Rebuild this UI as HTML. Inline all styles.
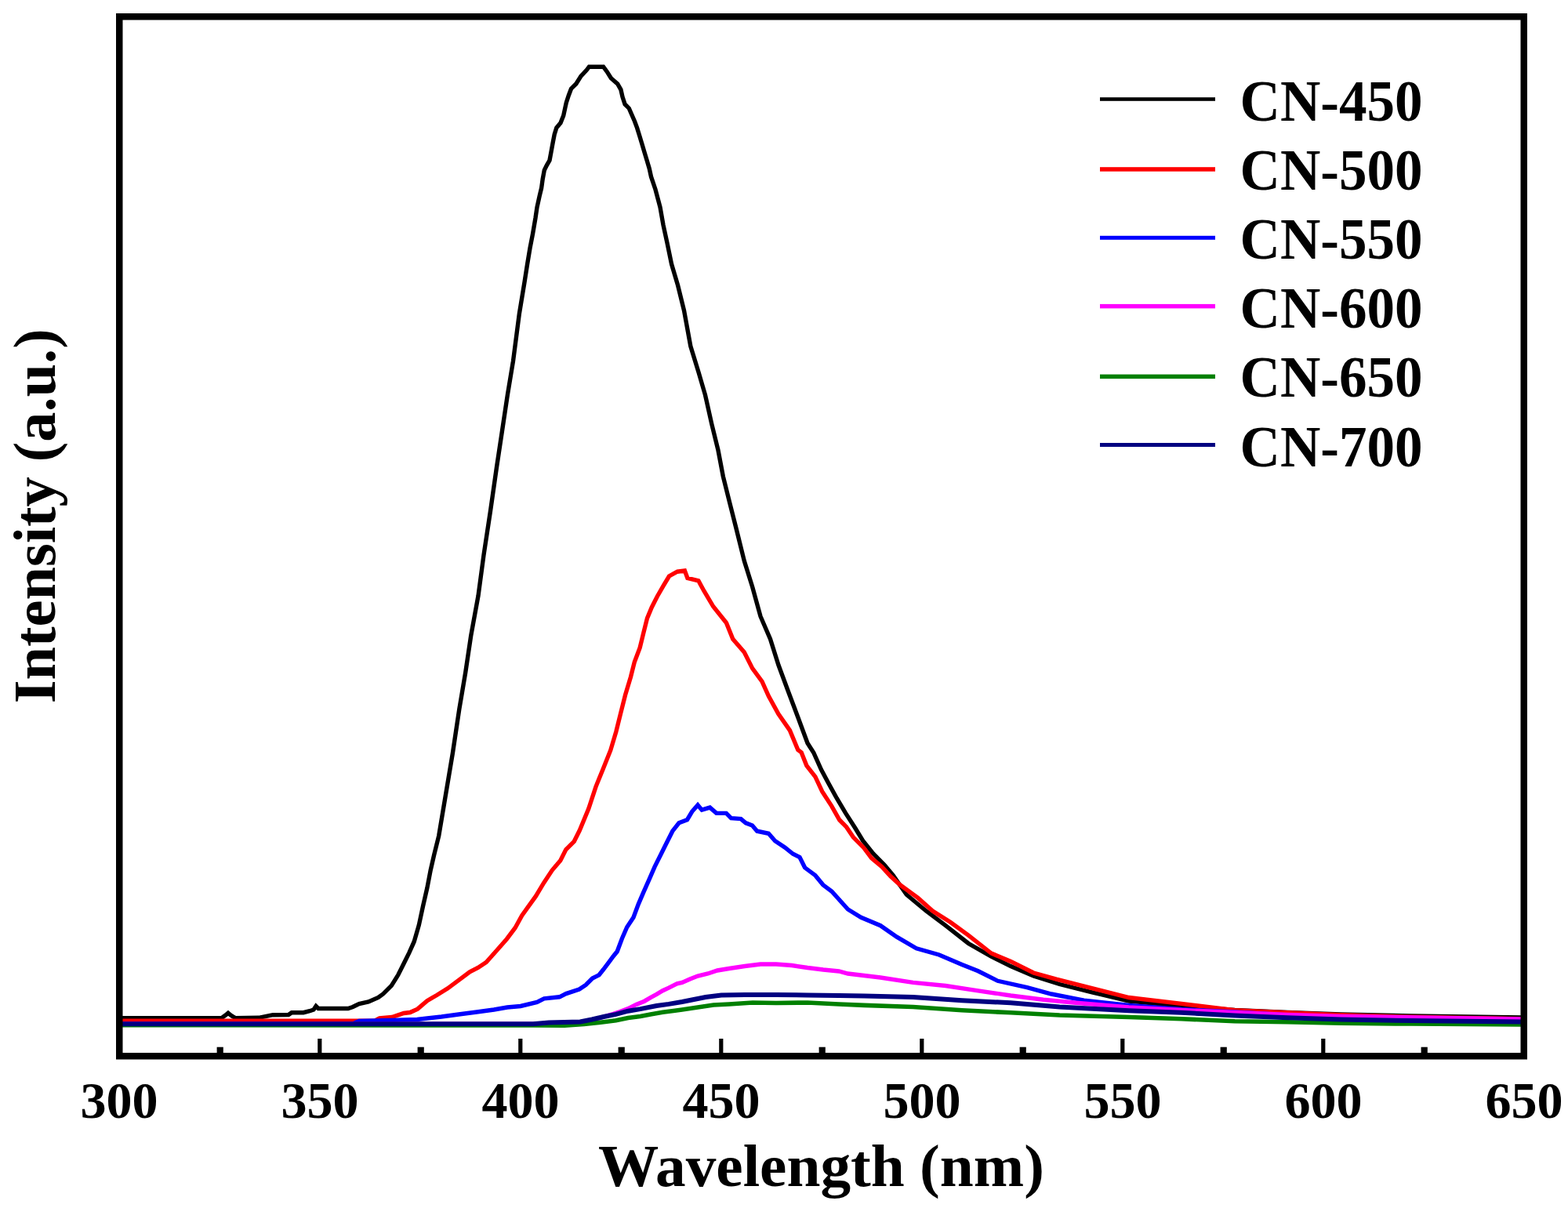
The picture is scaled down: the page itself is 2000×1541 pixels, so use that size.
<!DOCTYPE html>
<html><head><meta charset="utf-8"><title>PL spectra</title>
<style>
html,body{margin:0;padding:0;background:#fff;}
body{width:2000px;height:1541px;overflow:hidden;}
svg{display:block;}
</style></head><body>
<svg width="2000" height="1541" viewBox="0 0 2000 1541"><defs><clipPath id="c"><rect x="156" y="26" width="1784" height="1318"/></clipPath></defs><g clip-path="url(#c)" fill="none" stroke-linejoin="miter" stroke-linecap="butt"><polyline points="156.0,1298.6 200.0,1298.8 240.0,1298.8 282.5,1298.6 287.0,1295.5 291.0,1292.3 295.0,1295.5 300.0,1298.6 330.0,1298.3 348.0,1294.7 368.0,1294.5 372.0,1291.7 387.0,1291.7 395.0,1289.7 400.0,1288.0 403.0,1283.5 406.0,1286.5 444.0,1286.5 450.0,1284.5 458.0,1280.5 470.0,1278.0 482.5,1272.5 488.8,1267.8 499.3,1257.3 508.0,1243.3 515.0,1229.2 522.0,1215.2 528.2,1201.2 534.3,1180.2 539.6,1155.6 544.8,1132.9 549.2,1110.1 553.6,1090.8 559.7,1066.3 564.1,1040.0 568.0,1016.8 577.4,960.7 585.8,904.7 593.7,858.0 600.7,811.0 610.0,760.0 617.0,708.0 625.5,652.0 633.5,596.0 640.5,549.5 647.5,502.8 654.5,460.7 662.4,400.0 669.0,360.0 672.6,337.0 676.0,316.6 679.5,298.5 683.0,278.0 685.0,264.4 688.5,248.5 690.6,240.0 692.2,228.5 694.3,217.1 697.4,210.8 701.0,204.6 703.1,193.2 705.2,181.8 707.2,171.4 709.8,163.0 715.0,156.8 718.7,147.5 720.7,138.2 722.3,130.9 725.4,121.5 728.5,113.2 734.8,107.0 741.0,97.1 748.3,89.3 751.4,85.2 769.6,85.2 774.2,91.4 779.4,99.7 787.7,107.0 791.9,114.3 794.0,123.6 797.1,133.0 802.3,138.2 805.9,146.5 809.5,154.8 812.6,163.1 815.8,173.5 818.9,183.8 822.0,194.2 825.1,204.6 828.2,215.0 830.5,225.4 836.0,241.7 842.0,264.4 846.0,287.0 851.0,310.0 856.6,337.0 864.6,364.0 872.5,396.0 880.8,441.5 891.0,474.8 899.5,503.8 907.8,541.0 916.0,574.4 922.3,607.6 930.6,640.9 939.0,674.0 949.3,715.6 959.7,748.8 970.0,786.2 982.5,815.3 993.0,848.5 1005.3,881.7 1017.8,915.0 1030.0,948.0 1037.7,960.0 1047.6,982.0 1056.4,998.6 1067.4,1018.5 1078.5,1037.2 1090.6,1056.0 1100.6,1072.5 1113.8,1089.0 1128.0,1103.4 1139.2,1116.7 1156.3,1141.2 1181.2,1162.0 1206.1,1180.7 1235.2,1203.5 1264.3,1220.1 1289.2,1232.6 1318.3,1245.0 1351.5,1255.5 1393.0,1265.8 1440.0,1277.0 1507.0,1283.0 1575.0,1288.5 1642.0,1291.5 1710.0,1294.0 1800.0,1296.0 1940.0,1298.0" stroke="#000000" stroke-width="5.4"/><polyline points="156.0,1302.2 478.0,1302.2 484.0,1299.0 500.0,1297.5 515.0,1292.5 523.0,1291.5 532.6,1287.1 544.8,1276.6 557.1,1269.5 571.1,1260.8 585.1,1250.3 599.2,1239.8 609.7,1234.5 620.2,1227.5 634.2,1211.7 646.5,1197.7 657.0,1183.7 665.7,1167.9 674.5,1155.6 683.3,1143.4 693.8,1125.9 704.3,1110.1 714.8,1097.8 721.8,1083.8 732.3,1073.3 739.3,1059.3 750.8,1031.6 760.0,1003.6 769.5,980.2 778.8,956.9 785.8,933.5 791.6,910.2 797.5,886.8 804.5,863.5 809.2,844.8 816.2,826.1 820.8,807.4 825.5,788.7 831.3,774.7 838.4,760.7 846.5,746.7 853.5,735.0 864.0,729.2 873.4,728.0 876.9,737.4 890.9,740.9 897.9,753.7 909.8,773.8 926.4,794.5 934.8,815.3 949.3,832.0 959.7,852.7 972.0,869.3 980.4,888.0 992.9,910.8 1007.4,931.6 1017.8,956.5 1022.2,960.0 1028.8,976.6 1039.9,990.9 1048.7,1009.7 1060.8,1028.4 1070.8,1046.0 1079.6,1054.9 1088.4,1068.1 1101.7,1081.4 1111.6,1094.6 1124.8,1105.7 1135.9,1117.8 1148.0,1128.8 1170.8,1145.4 1189.5,1162.0 1212.4,1176.5 1235.2,1193.1 1264.3,1216.0 1289.2,1226.4 1318.3,1241.0 1347.4,1249.2 1384.8,1258.6 1440.0,1272.5 1507.0,1280.4 1575.0,1288.8 1642.0,1291.8 1710.0,1294.8 1800.0,1297.3 1940.0,1299.6" stroke="#ff0000" stroke-width="5.4"/><polyline points="156.0,1306.0 450.0,1306.0 458.0,1302.5 532.0,1300.5 545.0,1299.0 563.0,1297.0 585.0,1294.0 608.0,1291.0 630.0,1288.0 647.0,1285.0 664.0,1283.5 685.0,1278.5 694.0,1273.9 713.6,1271.8 722.0,1267.6 738.8,1262.0 747.2,1256.4 755.6,1248.0 764.0,1243.8 769.6,1236.8 778.0,1225.6 782.2,1220.0 787.2,1213.8 793.4,1197.2 799.7,1182.7 808.0,1170.2 814.2,1153.6 820.4,1139.1 828.7,1120.4 835.0,1105.9 843.3,1089.3 849.5,1076.8 857.8,1060.2 866.0,1049.8 876.5,1045.7 882.7,1035.3 890.0,1027.0 895.2,1033.2 905.5,1030.1 913.8,1037.4 926.3,1037.4 932.5,1043.6 945.0,1044.6 951.2,1049.8 959.5,1053.0 965.7,1060.2 980.3,1063.3 988.6,1072.7 1001.0,1081.0 1011.4,1089.3 1020.0,1093.5 1026.6,1106.8 1039.9,1116.7 1049.8,1128.8 1060.8,1137.0 1081.5,1160.0 1098.2,1170.3 1123.0,1180.7 1143.8,1195.2 1168.8,1209.8 1197.8,1218.0 1227.0,1230.5 1247.7,1238.8 1272.6,1251.3 1310.0,1259.6 1341.0,1268.0 1382.7,1276.2 1440.0,1282.5 1507.0,1287.5 1575.0,1291.0 1642.0,1295.0 1710.0,1298.5 1940.0,1302.0" stroke="#0000ff" stroke-width="5.4"/><polyline points="156.0,1306.2 700.0,1306.2 740.0,1304.5 757.0,1301.0 770.0,1297.0 782.5,1293.3 790.8,1290.5 801.2,1286.6 811.5,1281.4 821.9,1277.2 829.7,1272.6 837.5,1268.4 845.3,1263.7 853.0,1260.1 863.5,1254.9 870.0,1253.5 880.0,1249.0 890.0,1245.0 903.0,1242.0 915.0,1238.0 930.0,1235.5 950.0,1232.5 970.0,1230.0 990.0,1230.0 1010.0,1231.5 1030.0,1234.5 1050.0,1237.0 1070.0,1239.0 1081.5,1242.0 1123.0,1247.0 1164.6,1253.4 1206.1,1257.5 1247.7,1263.8 1289.2,1270.0 1330.8,1275.2 1372.3,1279.3 1440.0,1285.0 1507.0,1288.5 1575.0,1291.5 1642.0,1294.5 1710.0,1296.5 1940.0,1300.0" stroke="#ff00ff" stroke-width="5.4"/><polyline points="156.0,1307.6 680.0,1308.0 720.0,1308.2 745.0,1306.4 770.0,1303.7 785.6,1301.7 801.2,1298.5 816.7,1296.5 829.7,1293.9 845.3,1291.3 860.9,1289.2 870.0,1288.0 890.0,1285.0 910.0,1282.0 930.0,1281.0 960.0,1279.0 990.0,1279.5 1030.0,1279.0 1070.0,1281.0 1102.3,1282.4 1164.6,1284.5 1227.0,1288.7 1289.2,1291.8 1351.5,1295.0 1440.0,1297.5 1507.0,1299.8 1575.0,1302.7 1642.0,1303.7 1710.0,1305.3 1800.0,1306.0 1940.0,1307.0" stroke="#008000" stroke-width="5.6"/><polyline points="156.0,1306.2 680.0,1306.2 700.0,1304.5 740.0,1303.5 755.0,1300.5 770.0,1297.0 785.6,1293.9 801.2,1289.7 816.7,1287.1 837.5,1283.0 853.0,1280.9 870.0,1278.0 885.0,1275.0 900.0,1272.0 920.0,1269.5 950.0,1269.0 990.0,1269.0 1030.0,1269.5 1070.0,1270.0 1102.3,1270.5 1164.6,1272.0 1227.0,1276.2 1289.2,1279.3 1351.5,1284.5 1440.0,1289.3 1507.0,1291.8 1575.0,1295.5 1642.0,1298.2 1710.0,1300.5 1800.0,1302.0 1940.0,1303.5" stroke="#000080" stroke-width="6.0"/></g><rect x="276.6" y="1335.7" width="8.2" height="9" fill="#000"/><rect x="405.2" y="1325" width="5.2" height="20" fill="#000"/><rect x="532.6" y="1335.7" width="8.2" height="9" fill="#000"/><rect x="661.2" y="1325" width="5.2" height="20" fill="#000"/><rect x="788.6" y="1335.7" width="8.2" height="9" fill="#000"/><rect x="917.2" y="1325" width="5.2" height="20" fill="#000"/><rect x="1044.6" y="1335.7" width="8.2" height="9" fill="#000"/><rect x="1173.2" y="1325" width="5.2" height="20" fill="#000"/><rect x="1300.6" y="1335.7" width="8.2" height="9" fill="#000"/><rect x="1429.2" y="1325" width="5.2" height="20" fill="#000"/><rect x="1556.6" y="1335.7" width="8.2" height="9" fill="#000"/><rect x="1685.2" y="1325" width="5.2" height="20" fill="#000"/><rect x="1812.6" y="1335.7" width="8.2" height="9" fill="#000"/><rect x="152.25" y="21.25" width="1791.5" height="1326.0" fill="none" stroke="#000" stroke-width="8.5"/><text x="152" y="1425.5" font-family="&apos;Liberation Serif&apos;, serif" font-weight="bold" font-size="66" text-anchor="middle" textLength="99.2" lengthAdjust="spacingAndGlyphs">300</text><text x="408" y="1425.5" font-family="&apos;Liberation Serif&apos;, serif" font-weight="bold" font-size="66" text-anchor="middle" textLength="99.2" lengthAdjust="spacingAndGlyphs">350</text><text x="664" y="1425.5" font-family="&apos;Liberation Serif&apos;, serif" font-weight="bold" font-size="66" text-anchor="middle" textLength="99.2" lengthAdjust="spacingAndGlyphs">400</text><text x="920" y="1425.5" font-family="&apos;Liberation Serif&apos;, serif" font-weight="bold" font-size="66" text-anchor="middle" textLength="99.2" lengthAdjust="spacingAndGlyphs">450</text><text x="1176" y="1425.5" font-family="&apos;Liberation Serif&apos;, serif" font-weight="bold" font-size="66" text-anchor="middle" textLength="99.2" lengthAdjust="spacingAndGlyphs">500</text><text x="1432" y="1425.5" font-family="&apos;Liberation Serif&apos;, serif" font-weight="bold" font-size="66" text-anchor="middle" textLength="99.2" lengthAdjust="spacingAndGlyphs">550</text><text x="1688" y="1425.5" font-family="&apos;Liberation Serif&apos;, serif" font-weight="bold" font-size="66" text-anchor="middle" textLength="99.2" lengthAdjust="spacingAndGlyphs">600</text><text x="1944" y="1425.5" font-family="&apos;Liberation Serif&apos;, serif" font-weight="bold" font-size="66" text-anchor="middle" textLength="99.2" lengthAdjust="spacingAndGlyphs">650</text><text x="1047.5" y="1512.5" font-family="&apos;Liberation Serif&apos;, serif" font-weight="bold" font-size="77" text-anchor="middle" textLength="569" lengthAdjust="spacingAndGlyphs">Wavelength (nm)</text><text transform="translate(69.5,658.3) rotate(-90)" x="0" y="0" font-family="&apos;Liberation Serif&apos;, serif" font-weight="bold" font-size="75.5" text-anchor="middle" textLength="477.8" lengthAdjust="spacingAndGlyphs">Intensity (a.u.)</text><rect x="1403" y="124.2" width="147" height="4.6" fill="#000000"/><text x="1581.6" y="154.0" font-family="&apos;Liberation Serif&apos;, serif" font-weight="bold" font-size="74.5" textLength="233" lengthAdjust="spacingAndGlyphs">CN-450</text><rect x="1403" y="213.2" width="147" height="5.5" fill="#ff0000"/><text x="1581.6" y="242.1" font-family="&apos;Liberation Serif&apos;, serif" font-weight="bold" font-size="74.5" textLength="233" lengthAdjust="spacingAndGlyphs">CN-500</text><rect x="1403" y="300.8" width="147" height="5" fill="#0000ff"/><text x="1581.6" y="330.2" font-family="&apos;Liberation Serif&apos;, serif" font-weight="bold" font-size="74.5" textLength="233" lengthAdjust="spacingAndGlyphs">CN-550</text><rect x="1403" y="387.9" width="147" height="5.5" fill="#ff00ff"/><text x="1581.6" y="418.3" font-family="&apos;Liberation Serif&apos;, serif" font-weight="bold" font-size="74.5" textLength="233" lengthAdjust="spacingAndGlyphs">CN-600</text><rect x="1403" y="477.6" width="147" height="5.5" fill="#008000"/><text x="1581.6" y="506.4" font-family="&apos;Liberation Serif&apos;, serif" font-weight="bold" font-size="74.5" textLength="233" lengthAdjust="spacingAndGlyphs">CN-650</text><rect x="1403" y="565.0" width="147" height="5" fill="#000080"/><text x="1581.6" y="594.5" font-family="&apos;Liberation Serif&apos;, serif" font-weight="bold" font-size="74.5" textLength="233" lengthAdjust="spacingAndGlyphs">CN-700</text></svg>
</body></html>
